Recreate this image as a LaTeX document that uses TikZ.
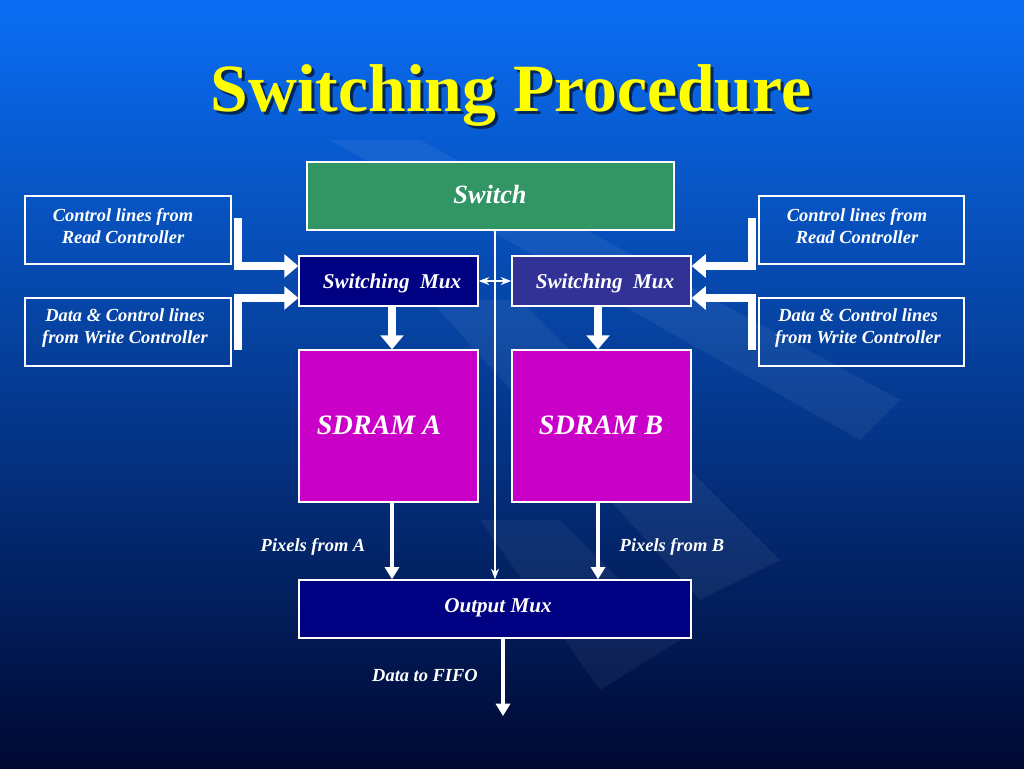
\documentclass[tikz,border=0pt]{standalone}
\usepackage{fontspec}
\setmainfont{Liberation Serif}
\usetikzlibrary{positioning,arrows.meta}
\definecolor{bgtop}{RGB}{10,110,245}
\definecolor{bgbot}{RGB}{0,8,50}
\definecolor{switchgreen}{RGB}{50,150,100}
\definecolor{muxnavy}{RGB}{0,0,130}
\definecolor{muxviolet}{RGB}{50,50,150}
\definecolor{sdram}{RGB}{200,0,200}
\definecolor{titleyellow}{RGB}{255,255,0}
\tikzset{
  box/.style={draw=white, line width=0.8pt, inner sep=0pt},
  lbl/.style={font=\bfseries\itshape\fontsize{10.5}{12.5}\selectfont, text=white, align=center, inner sep=0pt},
  fat/.style={draw=white, line width=4.5pt, -{Triangle[length=8pt,width=13pt]}},
  thin/.style={draw=white, line width=1pt, -{Stealth[length=6pt]}},
}
\begin{document}
\begin{tikzpicture}[x=0.02cm,y=-0.02cm]
  \shade[top color=bgtop, bottom color=bgbot] (0,0) rectangle (1024,768);
  \useasboundingbox (0,0) rectangle (1024,768);
  % faint diagonal stripes
  \fill[white, opacity=0.06] (330,140) -- (420,140) -- (900,400) -- (860,440) -- cycle;
  \fill[white, opacity=0.06] (430,300) -- (520,300) -- (780,560) -- (700,600) -- cycle;
  \fill[white, opacity=0.05] (480,520) -- (560,520) -- (680,640) -- (600,690) -- cycle;

  \node[font=\bfseries\fontsize{38.5}{44}\selectfont, text=black, opacity=0.6] (shadow) at (514,98) {Switching Procedure};
  \node[font=\bfseries\fontsize{38.5}{44}\selectfont, text=titleyellow] (title) at (511,95) {Switching Procedure};

  \node[box, fill=switchgreen, minimum width=7.34cm, minimum height=1.36cm] (switch) at (490.5,196) {};
  \node[lbl, font=\bfseries\itshape\fontsize{15}{18}\selectfont] (switchtxt) at (490,194) {Switch};

  \node[box, minimum width=4.12cm, minimum height=1.36cm] (ctrlL) at (128,230) {};
  \node[box, minimum width=4.12cm, minimum height=1.36cm] (dataL) at (128,332) {};
  \node[box, minimum width=4.1cm, minimum height=1.36cm] (ctrlR) at (861.5,230) {};
  \node[box, minimum width=4.1cm, minimum height=1.36cm] (dataR) at (861.5,332) {};
  \node[lbl] (ctrlLtxt) at (123,226) {Control lines from\\Read Controller};
  \node[lbl] (dataLtxt) at (125,328) {Data \& Control lines\\from Write Controller};
  \node[lbl] (ctrlRtxt) at (857,226) {Control lines from\\Read Controller};
  \node[lbl] (dataRtxt) at (858,328) {Data \& Control lines\\from Write Controller};

  \node[box, fill=muxnavy, minimum width=3.58cm, minimum height=1cm] (muxA) at (388.5,281) {};
  \node[box, fill=muxviolet, minimum width=3.58cm, minimum height=1cm] (muxB) at (601.5,281) {};
  \node[lbl, font=\bfseries\itshape\fontsize{12}{14}\selectfont] (muxAtxt) at (392,283) {Switching\ \ Mux};
  \node[lbl, font=\bfseries\itshape\fontsize{12}{14}\selectfont] (muxBtxt) at (605,283) {Switching\ \ Mux};

  \node[box, fill=sdram, minimum width=3.58cm, minimum height=3.04cm] (sdramA) at (388.5,426) {};
  \node[box, fill=sdram, minimum width=3.58cm, minimum height=3.04cm] (sdramB) at (601.5,426) {};
  \node[lbl, font=\bfseries\itshape\fontsize{16}{18}\selectfont] (sdramAtxt) at (379,425) {SDRAM A};
  \node[lbl, font=\bfseries\itshape\fontsize{16}{18}\selectfont] (sdramBtxt) at (601,425) {SDRAM B};

  \node[box, fill=muxnavy, minimum width=7.84cm, minimum height=1.16cm] (outmux) at (495,609) {};
  \node[lbl, font=\bfseries\itshape\fontsize{12}{14}\selectfont] (outmuxtxt) at (498,608) {Output Mux};

  \coordinate (swbot) at (495,230);
  \coordinate (fifo) at (503,716);
  \coordinate (cLa) at (238,218);
  \coordinate (cLb) at (238,350);
  \coordinate (cRa) at (752,218);
  \coordinate (cRb) at (752,350);

  \draw[thin] (switch.south -| swbot) -- (swbot |- outmux.north);
  \draw[draw=white, line width=1pt, {Stealth[length=6pt]}-{Stealth[length=6pt]}] (muxA.east) -- (muxB.west);
  \draw[fat] (muxA.south -| 392,0) -- (sdramA.north -| 392,0);
  \draw[fat] (muxB.south -| 598,0) -- (sdramB.north -| 598,0);
  \draw[draw=white, line width=2.5pt, -{Triangle[length=7pt,width=8pt]}] (sdramA.south -| 392,0) -- (outmux.north -| 392,0);
  \draw[draw=white, line width=2.5pt, -{Triangle[length=7pt,width=8pt]}] (sdramB.south -| 598,0) -- (outmux.north -| 598,0);
  \draw[draw=white, line width=2.5pt, -{Triangle[length=7pt,width=8pt]}] (outmux.south -| fifo) -- (fifo);

  \draw[fat] (cLa) -- (238,266) -- (muxA.west |- 0,266);
  \draw[fat] (cLb) -- (238,298) -- (muxA.west |- 0,298);
  \draw[fat] (cRa) -- (752,266) -- (muxB.east |- 0,266);
  \draw[fat] (cRb) -- (752,298) -- (muxB.east |- 0,298);

  \node[lbl] (pixA) at (313,547) {Pixels from A};
  \node[lbl] (pixB) at (672,547) {Pixels from B};
  \node[lbl] (fifotxt) at (425,675) {Data to FIFO};
\end{tikzpicture}
\end{document}
